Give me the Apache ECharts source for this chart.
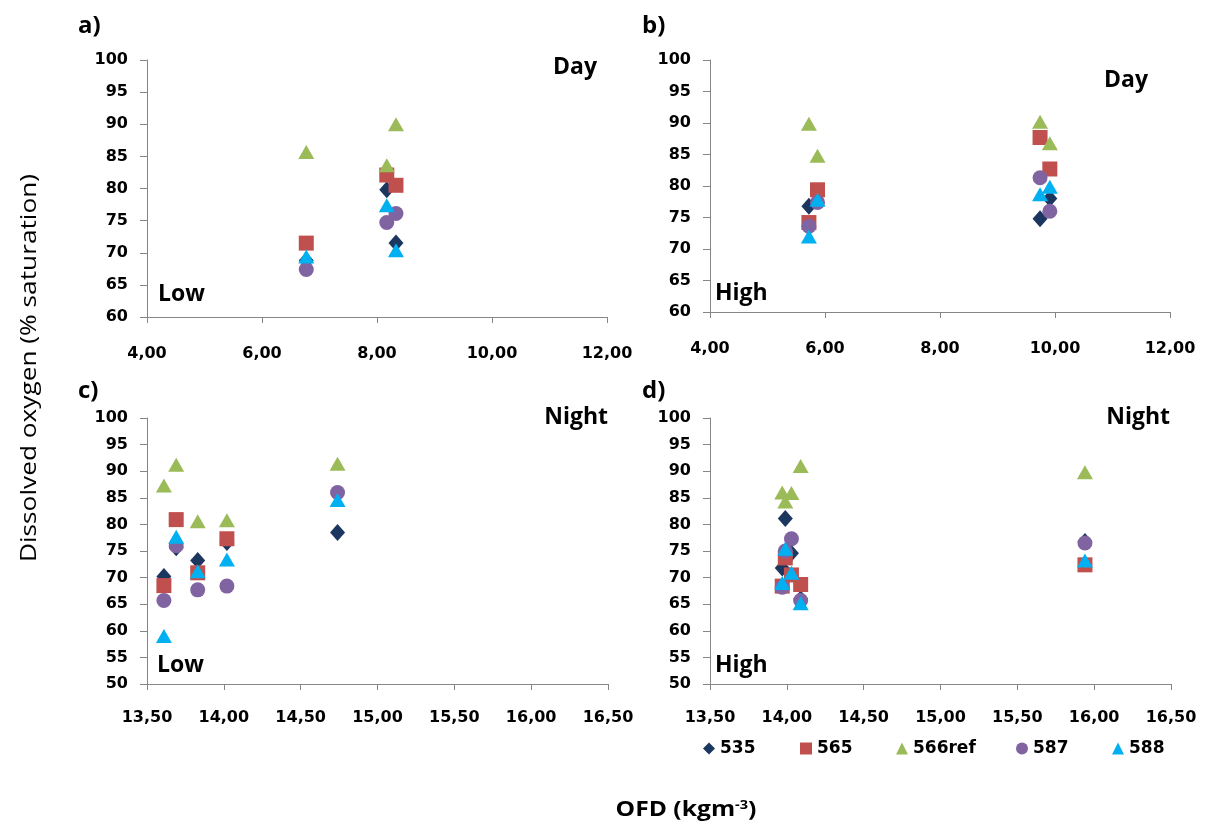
<!DOCTYPE html>
<html>
<head>
<meta charset="utf-8">
<script src="https://cdn.jsdelivr.net/npm/echarts@6/dist/echarts.min.js"></script>
<style>html,body{margin:0;padding:0;background:#fff;}#c{width:1206px;height:826px;}</style>
</head>
<body>
<div id="c"></div>
<script>
// ---- Data ----
const seriesNames = ['535', '565', '566ref', '587', '588'];
const yTicksDay = [60, 100, 5];
const yTicksNight = [50, 100, 5];
const xTicksDay = [4, 12, 2];
const xTicksNight = [13.5, 16.5, 0.5];

// a) Day, Low
const a535 = [[6.77, 68.8], [8.17, 79.8], [8.33, 71.5]];
const a565 = [[6.77, 71.5], [8.17, 82.1], [8.33, 80.5]];
const a566ref = [[6.77, 85.7], [8.17, 83.6], [8.33, 90.0]];
const a587 = [[6.77, 67.4], [8.17, 74.7], [8.33, 76.1]];
const a588 = [[6.77, 69.4], [8.17, 77.4], [8.33, 70.4]];
// b) Day, High
const b535 = [[5.72, 76.8], [5.87, 78.8], [9.74, 74.8], [9.91, 78.0]];
const b565 = [[5.72, 74.2], [5.87, 79.4], [9.74, 87.7], [9.91, 82.7]];
const b566ref = [[5.72, 89.9], [5.87, 84.8], [9.74, 90.2], [9.91, 86.8]];
const b587 = [[5.72, 73.6], [5.87, 77.4], [9.74, 81.3], [9.91, 76.0]];
const b588 = [[5.72, 72.0], [5.87, 77.8], [9.74, 78.7], [9.91, 79.9]];
// c) Night, Low
const c535 = [[13.61, 70.2], [13.69, 75.6], [13.83, 73.2], [14.02, 76.6], [14.74, 78.5]];
const c565 = [[13.61, 68.5], [13.69, 80.9], [13.83, 70.9], [14.02, 77.3]];
const c566ref = [[13.61, 87.3], [13.69, 91.2], [13.83, 80.6], [14.02, 80.8], [14.74, 91.4]];
const c587 = [[13.61, 65.7], [13.69, 76.0], [13.83, 67.7], [14.02, 68.4], [14.74, 86.0]];
const c588 = [[13.61, 59.0], [13.69, 77.7], [13.83, 71.2], [14.02, 73.4], [14.74, 84.6]];
// d) Night, High
const d535 = [[13.97, 71.8], [13.99, 81.1], [14.03, 74.6], [14.09, 66.0], [15.94, 76.8]];
const d565 = [[13.97, 68.4], [13.99, 73.7], [14.03, 70.5], [14.09, 68.7], [15.94, 72.4]];
const d566ref = [[13.97, 86.0], [13.99, 84.3], [14.03, 85.9], [14.09, 91.0], [15.94, 89.8]];
const d587 = [[13.97, 68.2], [13.99, 75.0], [14.03, 77.3], [14.09, 65.7], [15.94, 76.5]];
const d588 = [[13.97, 69.0], [13.99, 75.4], [14.03, 70.9], [14.09, 65.2], [15.94, 73.2]];

const panels = [
  [a535, a565, a566ref, a587, a588],
  [b535, b565, b566ref, b587, b588],
  [c535, c565, c566ref, c587, c588],
  [d535, d565, d566ref, d587, d588]
];

// ---- Style ----
const colors = ['#1B365F', '#C0504D', '#9BBB59', '#8064A2', '#00B0F0'];
const symbols = ['diamond', 'rect', 'triangle', 'circle', 'triangle'];
const sizes = [[15, 17], [15, 15], [16, 14], [15, 15], [16, 14]];
const tickFont = 'DejaVu Sans';
const axisColor = '#868686';

const grids = [
  { left: 147, top: 60, width: 460, height: 257 },
  { left: 710, top: 60, width: 460, height: 252 },
  { left: 147, top: 418, width: 461, height: 266 },
  { left: 710, top: 418, width: 461, height: 266 }
];
const xRanges = [xTicksDay, xTicksDay, xTicksNight, xTicksNight];
const yRanges = [yTicksDay, yTicksDay, yTicksNight, yTicksNight];
const xMargins = [29, 29, 26, 26];

const xAxis = [], yAxis = [], series = [];
for (let i = 0; i < 4; i++) {
  xAxis.push({
    type: 'value', gridIndex: i,
    min: xRanges[i][0], max: xRanges[i][1], interval: xRanges[i][2],
    splitLine: { show: false },
    axisLine: { show: true, onZero: false, lineStyle: { color: axisColor, width: 1 } },
    axisTick: { show: true, length: 6, lineStyle: { color: axisColor } },
    axisLabel: {
      margin: xMargins[i], color: '#000', fontFamily: tickFont, fontWeight: 'bold', fontSize: 16,
      formatter: v => v.toFixed(2).replace('.', ',')
    }
  });
  yAxis.push({
    type: 'value', gridIndex: i,
    min: yRanges[i][0], max: yRanges[i][1], interval: yRanges[i][2],
    splitLine: { show: false },
    axisLine: { show: true, onZero: false, lineStyle: { color: axisColor, width: 1 } },
    axisTick: { show: true, length: 7, lineStyle: { color: axisColor } },
    axisLabel: { margin: 19, color: '#000', fontFamily: tickFont, fontWeight: 'bold', fontSize: 16 }
  });
  for (let s = 0; s < 5; s++) {
    series.push({
      type: 'scatter', name: seriesNames[s], xAxisIndex: i, yAxisIndex: i,
      data: panels[i][s], symbol: symbols[s], symbolSize: sizes[s],
      itemStyle: { color: colors[s], opacity: 1 },
      emphasis: { disabled: true }
    });
  }
}

const legendLefts = [698, 795, 891, 1011, 1107];
const legend = seriesNames.map((n, k) => ({
  data: [n], left: legendLefts[k], top: 735, orient: 'horizontal',
  itemWidth: 12, itemHeight: 12, itemGap: 5, selectedMode: false,
  textStyle: { fontFamily: tickFont, fontWeight: 'bold', fontSize: 17, color: '#000' }
}));

function txt(x, y, text, opts) {
  opts = opts || {};
  return {
    type: 'text', x: x, y: y, rotation: opts.rotation || 0,
    scaleX: opts.scaleX || 1, scaleY: 1,
    style: {
      text: text, fill: '#000',
      font: (opts.weight || 'bold') + ' ' + (opts.size || 23) + 'px "Open Sans"',
      align: opts.align || 'left', verticalAlign: 'middle',
      textAlign: opts.align || 'left', textVerticalAlign: 'middle'
    }
  };
}

const graphic = [
  txt(78, 26, 'a)', { size: 24 }),
  txt(642, 26, 'b)', { size: 24 }),
  txt(78, 391, 'c)', { size: 24 }),
  txt(642, 391, 'd)', { size: 24 }),
  txt(597, 67, 'Day', { align: 'right' }),
  txt(1148, 80, 'Day', { align: 'right' }),
  txt(608, 417, 'Night', { align: 'right' }),
  txt(1170, 417, 'Night', { align: 'right' }),
  txt(158, 294, 'Low'),
  txt(715, 293, 'High'),
  txt(157, 665, 'Low'),
  txt(715, 665, 'High'),
  txt(30, 368, 'Dissolved oxygen (% saturation)', { align: 'center', rotation: Math.PI / 2, weight: 'normal', size: 21, scaleX: 1.25 }),
  {
    type: 'text', x: 686, y: 810, scaleX: 1.12,
    style: {
      text: '{a|OFD (kgm}{s|-3}{a|)}', align: 'center', verticalAlign: 'middle',
      textAlign: 'center', textVerticalAlign: 'middle',
      rich: {
        a: { fontFamily: 'Open Sans', fontWeight: 'bold', fontSize: 22, fill: '#000', color: '#000' },
        s: { fontFamily: 'Open Sans', fontWeight: 'bold', fontSize: 13, fill: '#000', color: '#000', verticalAlign: 'top', padding: [0, 0, 10, 0] }
      }
    }
  }
];

const chart = echarts.init(document.getElementById('c'), null, { renderer: 'canvas' });
chart.setOption({
  animation: false,
  backgroundColor: '#fff',
  grid: grids.map(g => Object.assign({ containLabel: false }, g)),
  xAxis: xAxis, yAxis: yAxis, series: series,
  legend: legend, graphic: graphic
});
</script>
</body>
</html>
